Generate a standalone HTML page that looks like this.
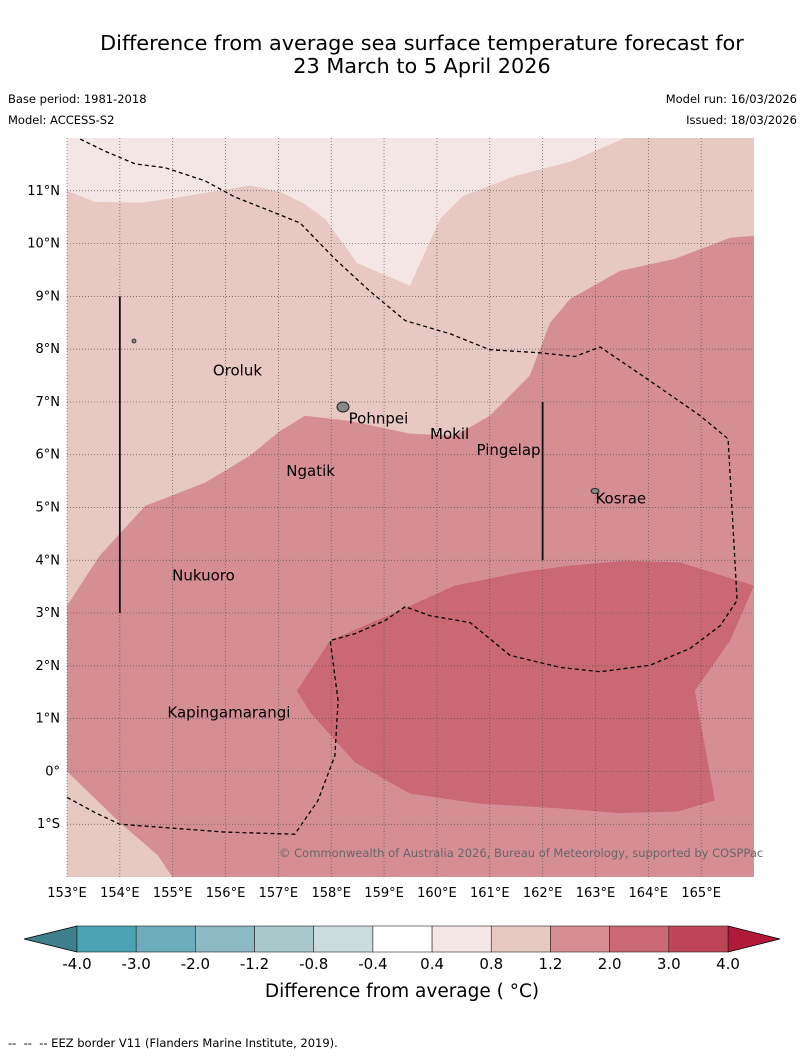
<!DOCTYPE html>
<html><head><meta charset="utf-8"><style>
body{margin:0;background:#fff;font-family:"DejaVu Sans","Liberation Sans",sans-serif;}
#wrap{position:relative;width:804px;height:1058px;overflow:hidden}
.t{position:absolute;white-space:nowrap}
</style></head><body>
<div id="wrap">
<div class="t" style="left:0;width:844px;text-align:center;top:32px;font-size:20.8px;line-height:23px;color:#000">Difference from average sea surface temperature forecast for<br>23 March to 5 April 2026</div>
<div class="t" style="left:8px;top:92px;font-size:11.5px">Base period: 1981-2018</div>
<div class="t" style="left:8px;top:113px;font-size:11.5px">Model: ACCESS-S2</div>
<div class="t" style="right:7px;top:92px;font-size:11.5px">Model run: 16/03/2026</div>
<div class="t" style="right:7px;top:113px;font-size:11.5px">Issued: 18/03/2026</div>
<svg id="map" width="804" height="1058" style="position:absolute;left:0;top:0"></svg>
<div class="t" style="left:8px;top:1036px;font-size:11.5px">-- &nbsp;-- &nbsp;-- EEZ border V11 (Flanders Marine Institute, 2019).</div>
</div>
<script>
const lonTicks=[153,154,155,156,157,158,159,160,161,162,163,164,165];
const latTicks=[11,10,9,8,7,6,5,4,3,2,1,0,-1];
const latLabels=["11°N","10°N","9°N","8°N","7°N","6°N","5°N","4°N","3°N","2°N","1°N","0°","1°S"];
const regionLight=[[153,11.0],[153.53,10.79],[154.38,10.77],[155.14,10.88],[156.46,11.1],[157.03,10.98],[157.5,10.75],[157.88,10.47],[158.49,9.63],[159.49,9.2],[160.06,10.47],[160.49,10.9],[161.48,11.28],[162.52,11.55],[163.56,12],[153,12]];
const regionMid=[[153,3.14],[153.62,4.09],[154.48,5.03],[155.61,5.47],[156.46,5.98],[157.03,6.45],[157.5,6.74],[158.35,6.64],[159.49,6.4],[160.34,6.36],[161.0,6.74],[161.76,7.5],[162.14,8.5],[162.52,8.95],[163.46,9.48],[164.5,9.71],[165.55,10.11],[166,10.15],[166,-2],[154.99,-2],[154.72,-1.59],[154.0,-0.97],[153,0]];
const regionHigh=[[157.35,1.53],[157.98,2.48],[159.3,3.05],[160.34,3.52],[161.57,3.77],[162.52,3.9],[163.56,3.99],[164.6,3.96],[166,3.52],[165.55,2.48],[164.88,1.53],[165.26,-0.55],[164.56,-0.76],[163.46,-0.79],[162.33,-0.7],[160.81,-0.61],[159.49,-0.42],[158.45,0.17],[157.6,1.12]];
const eez=[[153.25,11.98],[153.72,11.75],[154.29,11.51],[154.85,11.44],[155.61,11.19],[156.18,10.88],[156.84,10.62],[157.41,10.39],[158.07,9.71],[158.73,9.1],[159.4,8.54],[160.25,8.29],[161,7.99],[161.95,7.93],[162.61,7.86],[163.09,8.04],[164.03,7.4],[164.98,6.74],[165.51,6.3],[165.68,3.24],[165.36,2.76],[164.79,2.33],[164.03,2.01],[163.09,1.89],[162.33,1.97],[161.38,2.2],[160.63,2.82],[159.87,2.95],[159.4,3.12],[159.02,2.86],[158.45,2.61],[157.98,2.48],[158.13,1.34],[158.07,0.3],[157.75,-0.55],[157.31,-1.19],[155.99,-1.15],[154,-1],[153.53,-0.78],[153,-0.49]];
const places=["Oroluk","Pohnpei","Mokil","Pingelap","Ngatik","Kosrae","Nukuoro","Kapingamarangi"];
const placeLon=[155.76,158.33,159.87,160.75,157.15,163.0,154.99,154.9];
const placeLat=[7.6,6.69,6.39,6.09,5.69,5.17,3.71,1.12];
const boundLines=[[[154,9],[154,3]],[[162,7],[162,4]]];
const cbLevels=["-4.0","-3.0","-2.0","-1.2","-0.8","-0.4","0.4","0.8","1.2","2.0","3.0","4.0"];
const cbColors=["#4aa3b3","#6badbb","#8cb9c4","#aac8cc","#ccdbde","#ffffff","#f4e6e5","#e8c8c3","#d68e95","#ca6873","#be4555"];
const X0=67,X1=754,Y0=138,Y1=877;
const lonMin=153,lonMax=166,latMin=-2,latMax=12;
const px=l=>X0+(l-lonMin)/(lonMax-lonMin)*(X1-X0);
const py=l=>Y1-(l-latMin)/(latMax-latMin)*(Y1-Y0);
const NS="http://www.w3.org/2000/svg";
const svg=document.getElementById('map');
function mk(tag,attrs,parent){const e=document.createElementNS(NS,tag);for(const k in attrs)e.setAttribute(k,attrs[k]);(parent||svg).appendChild(e);return e;}
const pts=a=>a.map(p=>px(p[0]).toFixed(1)+","+py(p[1]).toFixed(1)).join(" ");
const FF='DejaVu Sans, Liberation Sans, sans-serif';
let e=mk('rect',{x:X0,y:Y0,width:X1-X0,height:Y1-Y0,fill:'#e8c8c3'});


e=mk('polygon',{points:pts(regionLight),fill:'#f4e6e5'});


e=mk('polygon',{points:pts(regionMid),fill:'#d68e95'});


e=mk('polygon',{points:pts(regionHigh),fill:'#ca6873'});


lonTicks.forEach(l=>{
 const g=mk('line',{x1:px(l),x2:px(l),y1:Y0,y2:Y1,stroke:'#555','stroke-width':0.7,'stroke-dasharray':'1,2'});
 
 
 const t=mk('text',{x:px(l),y:Y1+20,'font-size':13,'text-anchor':'middle','font-family':FF});
 t.textContent=l+"°E";
 
 
});
latTicks.forEach((l,i)=>{
 const g=mk('line',{x1:X0,x2:X1,y1:py(l),y2:py(l),stroke:'#555','stroke-width':0.7,'stroke-dasharray':'1,2'});
 
 
 const t=mk('text',{x:60,y:py(l)+4,'font-size':13,'text-anchor':'end','font-family':FF});
 t.textContent=latLabels[i];
 
 
});
e=mk('polyline',{points:pts(eez),fill:'none',stroke:'#000','stroke-width':1.3,'stroke-dasharray':'4,3'});


boundLines.forEach(b=>{
 const l=mk('line',{x1:px(b[0][0]),y1:py(b[0][1]),x2:px(b[1][0]),y2:py(b[1][1]),stroke:'#111','stroke-width':1.8});
 
 
});
e=mk('ellipse',{cx:343,cy:407,rx:6,ry:5,fill:'#888',stroke:'#222','stroke-width':1});


e=mk('ellipse',{cx:595,cy:491,rx:4,ry:2.5,fill:'#888',stroke:'#222','stroke-width':1});


e=mk('ellipse',{cx:134,cy:341,rx:2,ry:2,fill:'#888',stroke:'#222','stroke-width':0.8});


places.forEach((n,i)=>{
 const t=mk('text',{x:px(placeLon[i]),y:py(placeLat[i])+5,'font-size':15,'font-family':FF});
 t.textContent=n;
 
 
});
e=mk('text',{x:279,y:857,'font-size':11.5,fill:'#666','font-family':FF});
e.textContent="© Commonwealth of Australia 2026, Bureau of Meteorology, supported by COSPPac";


const CB0=77,CB1=728,CBy=926,CBh=26,bw=(CB1-CB0)/cbColors.length;
e=mk('polygon',{points:`${CB0},${CBy} ${CB0},${CBy+CBh} 24,${CBy+CBh/2}`,fill:'#3e7f8d',stroke:'#000','stroke-width':0.8});


e=mk('polygon',{points:`${CB1},${CBy} ${CB1},${CBy+CBh} 780,${CBy+CBh/2}`,fill:'#b01a38',stroke:'#000','stroke-width':0.8});


cbColors.forEach((c,i)=>{
 const r=mk('rect',{x:CB0+i*bw,y:CBy,width:bw,height:CBh,fill:c,stroke:'#222','stroke-width':0.6});
 
 
});
cbLevels.forEach((v,i)=>{
 const t=mk('text',{x:CB0+i*bw,y:CBy+CBh+17,'font-size':15,'text-anchor':'middle','font-family':FF});
 t.textContent=v;
 
 
});
e=mk('text',{x:402,y:997,'font-size':18.5,'text-anchor':'middle','font-family':FF});
e.textContent="Difference from average ( °C)";


</script>
</body></html>
